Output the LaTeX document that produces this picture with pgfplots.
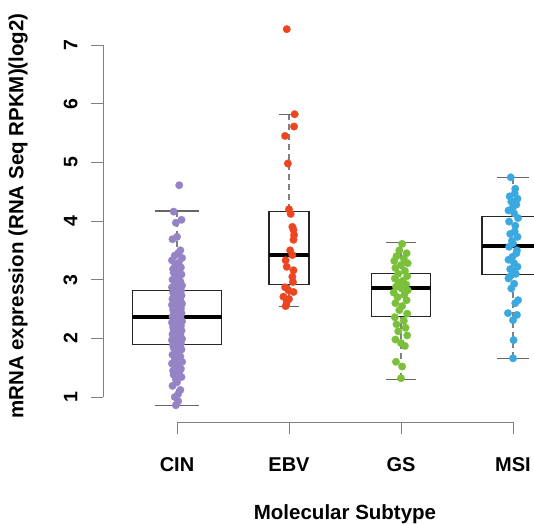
\documentclass[border=0pt]{standalone}
\usepackage{pgfplots}
\pgfplotsset{compat=1.18}
\usepgfplotslibrary{statistics}
\usepackage{fontspec}
\setmainfont{Liberation Sans}
\definecolor{cinc}{HTML}{9583C6}
\definecolor{ebvc}{HTML}{EE4521}
\definecolor{gsc}{HTML}{7BC03B}
\definecolor{msic}{HTML}{3CA8E0}
\definecolor{axc}{gray}{0.5}

\pgfplotstableread{
x y
0.020 4.61
-0.030 4.16
0.040 4.02
-0.010 3.97
0.000 3.73
-0.040 3.69
0.030 3.50
0.010 3.45
-0.020 3.41
0.045 3.37
-0.045 3.33
0.015 3.29
-0.015 3.25
0.035 3.21
-0.035 3.18
0.020 3.15
-0.030 3.12
0.040 3.09
-0.010 3.06
0.000 3.03
-0.040 3.00
0.030 2.97
0.010 2.95
-0.020 2.92
0.045 2.90
-0.045 2.87
0.015 2.85
-0.015 2.83
0.035 2.81
-0.035 2.79
0.020 2.77
-0.030 2.75
0.040 2.73
-0.010 2.71
0.000 2.69
-0.040 2.67
0.030 2.65
0.010 2.63
-0.020 2.61
0.045 2.59
-0.045 2.57
0.015 2.55
-0.015 2.53
0.035 2.51
-0.035 2.49
0.020 2.47
-0.030 2.45
0.040 2.43
-0.010 2.41
0.000 2.39
-0.040 2.37
0.030 2.35
0.010 2.33
-0.020 2.31
0.045 2.29
-0.045 2.27
0.015 2.25
-0.015 2.23
0.035 2.21
-0.035 2.19
0.020 2.17
-0.030 2.15
0.040 2.13
-0.010 2.11
0.000 2.09
-0.040 2.07
0.030 2.05
0.010 2.03
-0.020 2.01
0.045 1.99
-0.045 1.97
0.015 1.95
-0.015 1.93
0.035 1.91
-0.035 1.89
0.020 1.87
-0.030 1.84
0.040 1.81
-0.010 1.78
0.000 1.75
-0.040 1.72
0.030 1.69
0.010 1.66
-0.020 1.63
0.045 1.60
-0.045 1.57
0.015 1.54
-0.015 1.51
0.035 1.48
-0.035 1.45
0.020 1.42
-0.030 1.38
0.040 1.34
-0.010 1.30
0.000 1.25
-0.040 1.19
0.030 1.12
0.010 1.05
-0.020 1.00
0.010 0.93
-0.010 0.86
}\cindata

\pgfplotstableread{
x y
0.980 7.27
1.050 5.82
1.045 5.61
0.965 5.45
0.990 4.98
1.000 4.20
1.015 4.12
1.030 3.90
1.040 3.85
1.045 3.76
1.040 3.68
1.010 3.50
1.030 3.42
0.970 3.33
0.980 3.22
1.040 3.16
1.030 3.05
1.035 2.96
0.965 2.87
0.995 2.82
1.040 2.79
0.950 2.71
1.000 2.67
0.980 2.62
0.970 2.55
}\ebvdata

\pgfplotstableread{
x y
2.010 3.61
1.985 3.50
2.050 3.45
1.960 3.40
2.025 3.36
1.940 3.32
2.060 3.28
2.000 3.25
1.950 3.20
2.035 3.15
1.975 3.10
2.055 3.06
1.945 3.02
2.015 2.98
1.980 2.95
2.045 2.92
1.955 2.88
2.005 2.85
2.060 2.82
1.935 2.78
2.030 2.74
1.970 2.70
2.050 2.65
1.950 2.60
2.010 2.55
1.985 2.48
2.055 2.42
1.945 2.36
2.025 2.30
1.960 2.24
2.040 2.18
1.975 2.12
2.055 2.05
1.950 1.98
2.000 1.92
2.035 1.87
1.955 1.60
2.010 1.52
2.000 1.32
}\gsdata

\pgfplotstableread{
x y
2.980 4.745
3.020 4.55
3.015 4.47
2.970 4.42
3.040 4.38
2.985 4.33
3.030 4.28
3.000 4.24
2.960 4.18
3.010 4.13
3.045 4.05
2.965 3.99
3.020 3.92
3.015 3.82
2.975 3.78
3.040 3.73
2.990 3.66
3.000 3.62
2.965 3.56
3.035 3.50
3.030 3.45
2.995 3.39
2.960 3.34
3.010 3.28
3.040 3.22
2.975 3.18
3.000 3.14
3.025 3.10
2.970 3.05
2.960 3.02
3.010 2.93
2.985 2.85
3.045 2.65
3.020 2.60
2.955 2.43
3.035 2.40
3.000 2.31
3.005 1.97
3.000 1.66
}\msidata

\begin{document}
\begin{tikzpicture}
\begin{axis}[
  at={(0,0)}, anchor=south west,
  scale only axis, width=431pt, height=422pt,
  xmin=-0.6607, xmax=3.1875, ymin=0.574, ymax=7.767,
  axis lines=left, axis line style={draw=none},
  tick align=outside, major tick length=12pt,
  tick style={axc, line width=0.9pt},
  xtick={0,1,2,3}, xticklabels={CIN,EBV,GS,MSI},
  ytick={1,2,3,4,5,6,7},
  /pgf/number format/assume math mode=true,
  xticklabel style={font=\fontsize{20}{24}\selectfont\bfseries, yshift=-20pt},
  yticklabel style={xshift=-10pt, rotate=90, anchor=south, font=\fontsize{19.5}{22}\selectfont\bfseries},
  xlabel={Molecular Subtype},
  ylabel={mRNA expression (RNA Seq RPKM)(log2)},
  label style={font=\fontsize{20.5}{24}\selectfont\bfseries},
  xlabel style={at={(axis description cs:0.5615,-0.218)}, anchor=center},
  ylabel style={at={(axis description cs:-0.197,0.488)}, anchor=center},
  clip mode=individual,
  boxplot/draw direction=y,
  boxplot/every median/.style={line width=4pt, black},
  boxplot/every box/.style={draw=black!85, line width=1.2pt},
  boxplot/draw/lower whisker/.code={%
    \draw[axc, dash pattern=on 6pt off 4pt, line width=1.2pt]
      (boxplot box cs:\pgfplotsboxplotvalue{lower whisker},0.5) --
      (boxplot box cs:\pgfplotsboxplotvalue{lower quartile},0.5);
    \draw[black!60, line width=1.2pt]
      (boxplot whisker cs:\pgfplotsboxplotvalue{lower whisker},0) --
      (boxplot whisker cs:\pgfplotsboxplotvalue{lower whisker},1);
  },
  boxplot/draw/upper whisker/.code={%
    \draw[axc, dash pattern=on 6pt off 4pt, line width=1.2pt]
      (boxplot box cs:\pgfplotsboxplotvalue{upper whisker},0.5) --
      (boxplot box cs:\pgfplotsboxplotvalue{upper quartile},0.5);
    \draw[black!60, line width=1.2pt]
      (boxplot whisker cs:\pgfplotsboxplotvalue{upper whisker},0) --
      (boxplot whisker cs:\pgfplotsboxplotvalue{upper whisker},1);
  },
]
\addplot[black, boxplot prepared={draw position=0, median=2.37, lower quartile=1.89, upper quartile=2.82, lower whisker=0.86, upper whisker=4.17, box extend=0.795, whisker extend=0.4}] coordinates {};
\addplot[black, boxplot prepared={draw position=1, median=3.42, lower quartile=2.92, upper quartile=4.16, lower whisker=2.54, upper whisker=5.82, box extend=0.357, whisker extend=0.18}] coordinates {};
\addplot[black, boxplot prepared={draw position=2, median=2.86, lower quartile=2.37, upper quartile=3.11, lower whisker=1.30, upper whisker=3.63, box extend=0.527, whisker extend=0.26}] coordinates {};
\addplot[black, boxplot prepared={draw position=3, median=3.58, lower quartile=3.09, upper quartile=4.07, lower whisker=1.66, upper whisker=4.74, box extend=0.554, whisker extend=0.28}] coordinates {};

\addplot[only marks, mark=*, mark size=3.8pt, mark options={fill=cinc, draw=cinc, line width=0.2pt}] table[x=x, y=y] {\cindata};
\addplot[only marks, mark=*, mark size=3.8pt, mark options={fill=ebvc, draw=ebvc, line width=0.2pt}] table[x=x, y=y] {\ebvdata};
\addplot[only marks, mark=*, mark size=3.8pt, mark options={fill=gsc, draw=gsc, line width=0.2pt}] table[x=x, y=y] {\gsdata};
\addplot[only marks, mark=*, mark size=3.8pt, mark options={fill=msic, draw=msic, line width=0.2pt}] table[x=x, y=y] {\msidata};

\draw[axc, line width=0.9pt] (axis cs:-0.6607,1) -- (axis cs:-0.6607,7);
\draw[axc, line width=0.9pt] (axis cs:0,0.574) -- (axis cs:3,0.574);
\end{axis}
\pgfresetboundingbox
\path[use as bounding box] (-103pt,-101pt) rectangle (431pt,422pt);
\end{tikzpicture}
\end{document}
